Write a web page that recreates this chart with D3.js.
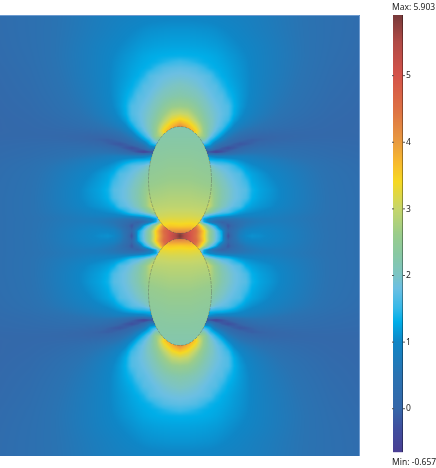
<!DOCTYPE html>
<html><head><meta charset="utf-8">
<style>html,body{margin:0;padding:0;background:#fff}#c{position:absolute;left:0;top:0}svg{position:absolute;left:0;top:0}</style>
<script src="https://cdn.jsdelivr.net/npm/d3@7"></script></head>
<body><canvas id="c" width="436" height="468"></canvas><svg id="s" width="436" height="468"></svg>
<script>
const maxValue = 5.903, minValue = -0.657;
const tickValues = [0,1,2,3,4,5];
const colorStops = [-0.657,-0.3,0,0.5,1,1.3,1.5,1.8,2,2.3,2.6,3,3.4,3.7,4,4.5,5,5.5,5.903];
const colorValues = ["#4a3f94","#3f4f9e","#3567a9","#2a73b2","#0f86c6","#00aee8","#35b8e8","#6bbfe2","#7cc4c4","#88c8a4","#99cc8c","#c6d66a","#f6d822","#f7b82e","#e89a40","#dd7044","#d4534a","#b04a46","#783a3a"];
// quadrant field: columns = distance from axis, rows = distance from mid-plane
const fieldDx = [0,8,16,24,30,36,42,48,54,60,66,72,80,90,100,115,130,150,180];
const fieldDy = [0,5,10,12,14,17,20,24,30,38,46,54,62,70,76,80,84,88,92,96,100,105,110,116,122,130,140,150,160,168,174,180,190,206,221];
const field = [
[5.9,5.2,4.5,3.4,2.5,1.85,1.3,-.3,.4,.8,1.02,1.08,1.05,.98,.9,.76,.62,.47,.33],
[5.6,5.1,4.6,3.5,2.5,1.8,1.2,0,.35,.7,.9,.98,.99,.94,.87,.75,.61,.46,.33],
[5,4.9,4.3,2.9,1.9,1.3,.4,-.2,.15,.45,.66,.77,.85,.86,.81,.71,.59,.46,.33],
[4.9,4.8,4,2.2,1.4,.8,.1,-.1,.2,.45,.6,.7,.78,.81,.79,.7,.59,.46,.33],
[4.8,4.7,3.5,1.3,.7,.2,-.1,.1,.28,.44,.56,.64,.72,.76,.75,.68,.58,.46,.33],
[3,3,3,1.2,.9,.7,.55,.5,.52,.58,.64,.7,.75,.76,.74,.66,.56,.45,.33],
[3,3,3,1.9,1.5,1.3,1.2,1.1,1,.95,.92,.9,.88,.85,.78,.68,.58,.46,.33],
[3,3,3,2.9,2.4,2,1.75,1.65,1.4,1.2,1.1,1.05,1,.94,.85,.74,.62,.47,.33],
[3.6,3.6,3.5,3.4,2.9,2.45,2.1,1.9,1.75,1.65,1.32,1.2,1.12,1.05,.95,.79,.64,.47,.33],
[3.2,3.2,3.1,3,2.85,2.5,2.2,2,1.85,1.75,1.62,1.32,1.2,1.1,1,.82,.66,.47,.33],
[3,3,2.9,2.8,2.7,2.45,2.18,2,1.85,1.75,1.68,1.36,1.22,1.12,1,.82,.65,.46,.32],
[2.8,2.8,2.7,2.6,2.55,2.28,2.08,1.92,1.8,1.7,1.55,1.28,1.18,1.07,.96,.79,.63,.45,.31],
[2.5,2.5,2.5,2.4,2.35,2.12,1.95,1.82,1.72,1.65,1.35,1.22,1.12,1,.9,.75,.6,.43,.29],
[2.3,2.3,2.3,2.2,2.1,1.85,1.75,1.68,1.5,1.3,1.15,1.06,.98,.88,.79,.66,.54,.39,.26],
[1.6,1.6,1.6,1.5,1.35,1.3,1.28,1.2,1.12,1.03,.96,.88,.82,.75,.67,.55,.45,.33,.23],
[1,1,1,1,1,.85,.8,.8,.8,.8,.78,.74,.68,.6,.54,.44,.36,.27,.2],
[-.4,-.4,-.4,-.4,-.3,-.55,-.3,-.05,.15,.3,.4,.45,.48,.47,.43,.37,.31,.24,.18],
[.8,.8,.8,.8,.8,.2,-.15,-.3,-.2,-.02,.12,.22,.3,.32,.32,.3,.26,.21,.16],
[1.5,1.5,1.5,1.6,1.25,.7,.35,.1,-.1,-.2,-.15,-.05,.08,.15,.2,.22,.2,.17,.13],
[2.2,2.2,2.2,2.2,1.5,1.15,.8,.45,.2,.05,-.05,-.1,-.05,0,.05,.1,.12,.12,.1],
[3,3,3,2.6,1.9,1.45,1.1,.75,.5,.3,.18,.09,.02,0,.03,.06,.08,.08,.07],
[4.2,4,3.5,2.55,2.05,1.75,1.4,1.05,.8,.6,.47,.37,.27,.2,.16,.12,.1,.08,.06],
[4.1,3.7,3.2,2.5,2.1,1.85,1.65,1.3,1,.82,.7,.6,.49,.39,.3,.22,.16,.1,.06],
[3.5,3.3,2.85,2.35,2.1,1.88,1.72,1.55,1.18,1,.86,.75,.63,.51,.4,.29,.2,.12,.06],
[3.05,2.95,2.6,2.25,2.02,1.88,1.75,1.65,1.3,1.1,.96,.85,.73,.6,.49,.36,.26,.15,.07],
[2.6,2.55,2.35,2.1,1.95,1.82,1.72,1.65,1.33,1.16,1.03,.92,.8,.67,.56,.43,.31,.18,.09],
[2.25,2.2,2.1,1.95,1.82,1.72,1.68,1.42,1.28,1.16,1.06,.96,.85,.73,.62,.48,.36,.22,.11],
[2.05,2,1.92,1.8,1.72,1.68,1.45,1.3,1.22,1.14,1.06,.97,.87,.75,.66,.52,.4,.25,.13],
[1.85,1.83,1.78,1.72,1.65,1.42,1.3,1.24,1.17,1.11,1.05,.98,.88,.78,.69,.55,.43,.28,.15],
[1.72,1.7,1.65,1.5,1.36,1.3,1.26,1.21,1.15,1.1,1.04,.97,.88,.79,.7,.57,.45,.3,.17],
[1.55,1.5,1.42,1.33,1.3,1.27,1.23,1.18,1.13,1.08,1.03,.96,.88,.79,.7,.58,.46,.32,.19],
[1.33,1.32,1.31,1.29,1.27,1.24,1.2,1.15,1.11,1.06,1.01,.95,.88,.79,.71,.59,.47,.33,.2],
[1.22,1.22,1.21,1.2,1.18,1.16,1.13,1.09,1.05,1.01,.97,.92,.86,.78,.7,.58,.47,.35,.22],
[1.1,1.1,1.09,1.08,1.07,1.05,1.02,.99,.96,.92,.88,.84,.79,.73,.66,.56,.47,.36,.24],
[.95,.95,.95,.94,.93,.92,.9,.88,.86,.84,.82,.8,.76,.7,.64,.55,.46,.36,.25]
];
const innerDx = [0,10,20,32];
const innerDy = [3,6,10,14,20,30,40,55,70,85,100,110];
const inner = [
[4.4,4.2,3.8,3.5],
[3.95,3.95,3.65,3.4],
[3.5,3.55,3.42,3.3],
[3.3,3.33,3.27,3.2],
[3.12,3.12,3.08,3.05],
[2.92,2.92,2.9,2.86],
[2.8,2.8,2.76,2.72],
[2.62,2.62,2.58,2.52],
[2.48,2.48,2.44,2.4],
[2.35,2.35,2.33,2.3],
[2.25,2.25,2.25,2.25],
[2.2,2.2,2.2,2.2]
];
const plot = {x0:0,x1:360,y0:15,y1:456,cx:180,cy:236};
const lens = {offset:56,rx:31.5,ry:53.5};

const color = d3.scaleLinear().domain(colorStops).range(colorValues).interpolate(d3.interpolateRgb).clamp(true);
const idx = a => d3.scaleLinear().domain(a).range(a.map((_,i)=>i)).clamp(true);
function sampler(xs,ys,t){
  const fx=idx(xs),fy=idx(ys);
  return (x,y)=>{
    const u=fx(x),v=fy(y),i=Math.min(Math.floor(u),xs.length-2),j=Math.min(Math.floor(v),ys.length-2),a=u-i,b=v-j;
    return (t[j][i]*(1-a)+t[j][i+1]*a)*(1-b)+(t[j+1][i]*(1-a)+t[j+1][i+1]*a)*b;
  };
}
const outer=sampler(fieldDx,fieldDy,field), innerF=sampler(innerDx,innerDy,inner);
const ctx=document.getElementById('c').getContext('2d');
ctx.fillStyle='#fff';ctx.fillRect(0,0,436,468);
const w=plot.x1-plot.x0,h=plot.y1-plot.y0,img=ctx.createImageData(w,h);
for(let py=0;py<h;py++)for(let px=0;px<w;px++){
  const dx=Math.abs(px+.5-plot.cx),dy=Math.abs(py+plot.y0+.5-plot.cy);
  const ex=dx/lens.rx,ey=(dy-lens.offset)/lens.ry;
  const v=(ex*ex+ey*ey<1)?innerF(dx,dy):outer(dx,dy);
  const c=d3.rgb(color(v)),k=(py*w+px)*4;
  img.data[k]=c.r;img.data[k+1]=c.g;img.data[k+2]=c.b;img.data[k+3]=255;
}
ctx.putImageData(img,plot.x0,plot.y0);

const svg=d3.select('#s');
svg.append('path').attr('d',`M0,${plot.y0+.5}H${plot.x1-.5}V${plot.y1}`).attr('fill','none').attr('stroke','#6d9bd0').attr('stroke-width',1);
svg.selectAll('ellipse').data([-1,1]).join('ellipse')
  .attr('cx',plot.cx).attr('cy',d=>plot.cy+d*lens.offset).attr('rx',lens.rx).attr('ry',lens.ry)
  .attr('fill','none').attr('stroke','#5f6b5f').attr('stroke-opacity',.75).attr('stroke-width',.6).attr('stroke-dasharray','3 1');

const bar={x:393,w:10};
const y=d3.scaleLinear().domain([minValue,maxValue]).range([452,15]);
const font='"Noto Sans"';
const steps=d3.range(Math.round(y(maxValue)),Math.round(y(minValue)));
svg.append('g').selectAll('rect').data(steps).join('rect')
  .attr('x',bar.x).attr('y',d=>d).attr('width',bar.w).attr('height',1.2)
  .attr('fill',d=>color(y.invert(d+.5)));
svg.append('line').attr('x1',bar.x+bar.w-.5).attr('x2',bar.x+bar.w-.5).attr('y1',15).attr('y2',452).attr('stroke','#000').attr('stroke-opacity',.35);
const ax=svg.append('g').attr('transform',`translate(${bar.x+bar.w},0)`)
  .call(d3.axisRight(y).tickValues(tickValues).tickSize(2).tickPadding(1).tickFormat(d3.format('d')));
ax.select('.domain').remove();
ax.selectAll('line').attr('stroke','#555');
ax.selectAll('text').attr('font-family',font).attr('font-size',8.5).attr('fill','#222');
svg.append('g').selectAll('line').data(tickValues).join('line')
  .attr('x1',bar.x-1).attr('x2',bar.x+1).attr('y1',d=>y(d)+.5).attr('y2',d=>y(d)+.5).attr('stroke','#555');
svg.selectAll('text.lab').data([{t:'Max: '+maxValue,y:10},{t:'Min: '+minValue,y:465}]).join('text').attr('class','lab')
  .attr('x',392).attr('y',d=>d.y).attr('font-family',font).attr('font-size',8.5).attr('fill','#222').text(d=>d.t);
</script></body></html>
